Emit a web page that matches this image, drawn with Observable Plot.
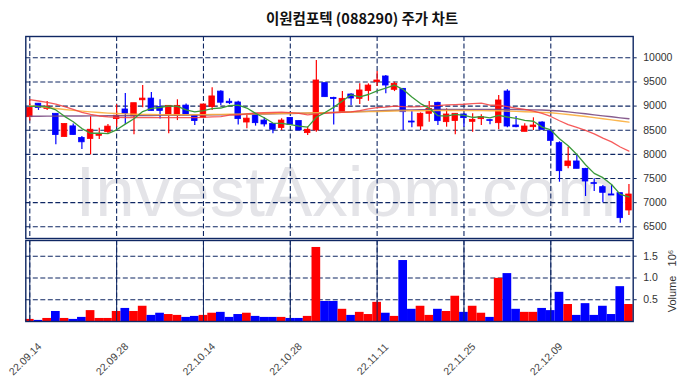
<!DOCTYPE html>
<html>
<head>
<meta charset="utf-8">
<script src="https://cdn.jsdelivr.net/npm/d3@7"></script>
<script src="https://cdn.jsdelivr.net/npm/@observablehq/plot@0.6"></script>
<style>
  html, body { margin: 0; padding: 0; background: #fff; }
  #wrap { position: relative; width: 690px; height: 378px; overflow: hidden; }
  #title { position: absolute; top: 8px; left: 362px; transform: translateX(-50%); white-space: nowrap;
           font-family: "Noto Sans CJK KR", "Noto Sans", sans-serif; font-weight: bold; font-size: 14.5px; color: #111; line-height: 20px; }
  #main { position: absolute; top: 26px; left: 0; }
  #vol { position: absolute; top: 230px; left: 0; }
</style>
</head>
<body>
<div id="wrap">
  <div id="title">이원컴포텍 (088290) 주가 차트</div>
  <div id="main"></div>
  <div id="vol"></div>
</div>
<script>
const dates = ["22.09.14","22.09.15","22.09.16","22.09.19","22.09.20","22.09.21","22.09.22","22.09.23","22.09.26","22.09.27",
  "22.09.28","22.09.29","22.09.30","22.10.04","22.10.05","22.10.06","22.10.07","22.10.11","22.10.12","22.10.13",
  "22.10.14","22.10.17","22.10.18","22.10.19","22.10.20","22.10.21","22.10.24","22.10.25","22.10.26","22.10.27",
  "22.10.28","22.10.31","22.11.01","22.11.02","22.11.03","22.11.04","22.11.07","22.11.08","22.11.09","22.11.10",
  "22.11.11","22.11.14","22.11.15","22.11.16","22.11.17","22.11.18","22.11.21","22.11.22","22.11.23","22.11.24",
  "22.11.25","22.11.28","22.11.29","22.11.30","22.12.01","22.12.02","22.12.05","22.12.06","22.12.07","22.12.08",
  "22.12.09","22.12.12","22.12.13","22.12.14","22.12.15","22.12.16","22.12.19","22.12.20","22.12.21","22.12.22"];

const open = [8770,9050,8940,8840,8360,8580,8340,8320,8385,8460,
  8730,8930,8785,9120,9155,8980,8825,8800,9010,8805,
  8757,8980,9300,9090,9075,8660,8840,8700,8630,8545,
  8755,8690,8440,8495,9475,9170,8875,9240,9150,9310,
  9495,9613,9337,9357,8680,8577,8840,9067,8667,8690,
  8826,8674,8729,8708,8646,9302,8598,8467,8563,8660,
  8480,8232,7756,7853,7700,7404,7321,7170,7197,6838];
const high = [9110,9050,9095,8840,8630,8630,8370,8780,8540,8620,
  9030,9260,9060,9425,9280,9130,9005,9130,9045,8805,
  9033,9380,9320,9150,9100,8840,8840,8757,8630,8736,
  8757,8690,8565,9945,9475,9185,9300,9255,9460,9460,
  9715,9633,9495,9357,8888,8860,9095,9081,8943,8840,
  8840,8840,8819,8715,9219,9336,8784,8632,8757,8674,
  8508,8260,8149,7977,7710,7493,7355,7369,7197,7376];
const low = [8690,8910,8910,8200,8360,8400,8100,7990,8310,8410,
  8560,8620,8405,8965,8900,8735,8425,8700,8805,8600,
  8757,8910,9010,9030,8610,8530,8585,8565,8425,8495,
  8610,8495,8390,8460,9185,8610,8875,9005,9035,9100,
  9405,9255,9300,8495,8550,8495,8667,8598,8563,8405,
  8563,8460,8598,8612,8508,8550,8550,8467,8494,8508,
  8184,7424,7700,7701,7128,7231,6996,7148,6575,6734];
const close = [8960,8960,8990,8400,8630,8400,8250,8510,8410,8575,
  8800,8840,9060,9155,8900,8900,9005,9005,8805,8690,
  9033,9200,9070,9060,8730,8740,8646,8620,8510,8700,
  8610,8495,8510,9530,9185,9145,9150,9157,9323,9425,
  9530,9426,9461,8874,8660,8840,8943,8688,8826,8840,
  8750,8715,8770,8694,9116,8577,8563,8577,8598,8508,
  8280,7652,7853,7701,7438,7390,7204,7148,6679,7169];
const volume = [48000,25000,70000,230000,70000,48000,94000,250000,70000,70000,
  230000,300000,230000,350000,140000,190000,160000,140000,94000,117000,
  140000,190000,210000,94000,160000,190000,117000,94000,94000,94000,
  70000,70000,117000,1700000,460000,460000,280000,140000,210000,160000,
  440000,190000,117000,1400000,280000,350000,140000,280000,230000,580000,
  210000,350000,190000,94000,990000,1100000,280000,210000,210000,300000,
  250000,670000,390000,140000,410000,140000,350000,160000,800000,390000];

// moving averages
const ma5 = [8995,8995,8985,8920,8788,8676,8534,8438,8440,8429,
  8509,8627,8737,8886,8951,8971,9004,8993,8923,8881,
  8908,8947,8960,9011,9019,8960,8849,8759,8649,8643,
  8617,8587,8565,8769,8866,8973,9104,9233,9192,9240,
  9317,9372,9433,9343,9190,9052,8956,8801,8791,8827,
  8809,8764,8780,8754,8809,8774,8744,8705,8686,8565,
  8505,8323,8178,7999,7785,7607,7517,7376,7172,7118];
const ma20 = [9135,9105,9075,9040,8990,8930,8870,8830,8795,8775,
  8765,8760,8760,8760,8760,8762,8762,8762,8762,8762,
  8766,8778,8782,8815,8820,8837,8857,8862,8867,8873,
  8864,8847,8819,8838,8852,8864,8872,8879,8905,8942,
  8967,8978,8998,8988,8985,8990,9005,9008,9024,9031,
  9038,9049,9062,9020,9017,8988,8959,8930,8894,8848,
  8785,8697,8616,8558,8496,8424,8337,8260,8153,8069];
const ma60 = [9010,8990,8970,8950,8930,8912,8895,8880,8866,8855,
  8846,8838,8832,8828,8825,8823,8822,8822,8822,8823,
  8824,8826,8828,8830,8833,8836,8839,8842,8845,8848,
  8851,8854,8857,8861,8865,8869,8873,8877,8881,8885,
  8889,8893,8897,8900,8902,8904,8906,8907,8908,8908,
  8908,8907,8906,8904,8902,8895,8890,8884,8877,8870,
  8862,8845,8825,8805,8783,8761,8738,8715,8691,8667];
const ma120 = [8790,8791,8792,8793,8794,8795,8796,8797,8798,8799,
  8800,8801,8803,8804,8806,8808,8810,8811,8813,8815,
  8816,8819,8822,8824,8827,8830,8834,8837,8841,8844,
  8848,8852,8855,8859,8862,8866,8873,8880,8887,8894,
  8900,8908,8915,8918,8922,8925,8927,8929,8930,8931,
  8932,8932,8932,8932,8931,8930,8928,8925,8922,8918,
  8910,8898,8880,8860,8840,8818,8798,8778,8757,8737];

const priceTicks = [6500,7000,7500,8000,8500,9000,9500,10000];
const volTicks = [0.5,1.0,1.5];
const dateTickEvery = 10;

const NAVY = "#0f2763";
const UP = "#ff0000", DOWN = "#0000ff";
const rows = dates.map((d, i) => ({i, date: d, open: open[i], high: high[i], low: low[i], close: close[i], vol: volume[i],
  ma5: ma5[i], ma20: ma20[i], ma60: ma60[i], ma120: ma120[i]}));
const col = d => d.close >= d.open ? UP : DOWN;
const tickIdx = d3.range(0, dates.length, dateTickEvery);
const xDomain = [-0.46, 69.49];
const grid = {stroke: NAVY, strokeOpacity: 1, strokeWidth: 1.1, strokeDasharray: "5,2.5"};
const font = "'Liberation Sans', Arial, sans-serif";

const main = Plot.plot({
  width: 690, height: 214,
  marginTop: 10, marginBottom: 2, marginLeft: 25.3, marginRight: 57.3,
  style: {fontFamily: font, fontSize: "10.5px", color: "#333", background: "transparent", overflow: "visible"},
  x: {domain: xDomain, axis: null},
  y: {domain: [6258, 10441], axis: null},
  marks: [
    Plot.text(["InvestAxiom.com"], {frameAnchor: "top-left", dx: 320, dy: 179, lineAnchor: "bottom", textAnchor: "middle",
      fontSize: 71, fill: "#e4e4e8", fontFamily: font}),
    Plot.gridY(priceTicks, grid),
    Plot.gridX(tickIdx, grid),
    Plot.ruleX(rows, {x: "i", y1: "low", y2: "high", stroke: col, strokeWidth: 1.2}),
    Plot.rect(rows, {x1: d => d.i - 0.32, x2: d => d.i + 0.32, y1: "open", y2: "close", fill: col, stroke: col, strokeWidth: 0.8}),
    Plot.lineY(rows, {x: "i", y: "ma120", stroke: "#7a4a82", strokeWidth: 1.4, strokeOpacity: 0.9}),
    Plot.lineY(rows, {x: "i", y: "ma60", stroke: "#fbae3c", strokeWidth: 1.4, strokeOpacity: 0.9}),
    Plot.lineY(rows, {x: "i", y: "ma20", stroke: "#f43e3e", strokeWidth: 1.3, strokeOpacity: 0.85}),
    Plot.lineY(rows, {x: "i", y: "ma5", stroke: "#3a9a3a", strokeWidth: 1.3}),
    Plot.axisY(priceTicks, {anchor: "right", tickSize: 3, tickPadding: 7, tickFormat: d => String(d), stroke: NAVY, fill: "#333"}),
    Plot.frame({stroke: NAVY, strokeWidth: 1.4})
  ]
});
document.getElementById("main").appendChild(main);

const vol = Plot.plot({
  width: 690, height: 148,
  marginTop: 10, marginBottom: 57, marginLeft: 25.3, marginRight: 57.3,
  style: {fontFamily: font, fontSize: "10.5px", color: "#333", background: "transparent", overflow: "visible"},
  x: {domain: xDomain, axis: null},
  y: {domain: [0, 1.86], axis: null},
  marks: [
    Plot.gridY(volTicks, grid),
    Plot.gridX(tickIdx, grid),
    Plot.rect(rows, {x1: d => d.i - 0.5, x2: d => d.i + 0.5, y1: 0, y2: d => d.vol / 1e6, fill: col}),
    Plot.axisY(volTicks, {anchor: "right", tickSize: 3, tickPadding: 7, tickFormat: d3.format(".1f"), stroke: NAVY, fill: "#333"}),
    Plot.tickX(tickIdx, {x: d => d, frameAnchor: "bottom", stroke: NAVY}),
    Plot.text(tickIdx, {x: d => d, frameAnchor: "bottom", dy: 40, dx: -2, rotate: -45, textAnchor: "middle",
      text: d => dates[d], fill: "#444", fontSize: 10.5}),
    Plot.text(["Volume   10\u2076"], {frameAnchor: "right", dx: 39, rotate: -90, textAnchor: "middle", fill: "#333", fontSize: 11}),
    Plot.frame({stroke: NAVY, strokeWidth: 1.4})
  ]
});
document.getElementById("vol").appendChild(vol);
</script>
</body>
</html>
